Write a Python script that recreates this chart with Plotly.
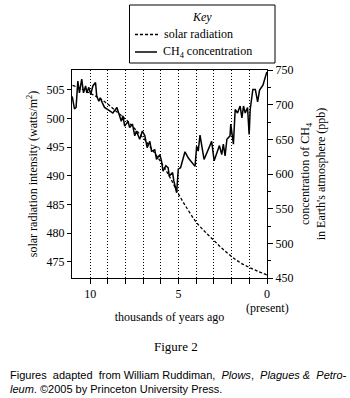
import plotly.graph_objects as go

# ---------------- data ----------------
kyr_ch4 = [11.02, 10.89, 10.80, 10.70, 10.61, 10.48, 10.38, 10.26, 10.19, 10.08,
           9.97, 9.85, 9.70, 9.63, 9.51, 9.43, 9.32, 9.19, 9.00, 8.72,
           8.49, 8.34, 8.24, 8.15, 8.05, 7.86, 7.77, 7.61, 7.48, 7.39,
           7.20, 7.05, 6.91, 6.78, 6.63, 6.53, 6.35, 6.25, 6.06, 5.97,
           5.88, 5.72, 5.59, 5.53, 5.34, 5.27, 5.11, 5.02, 4.89, 4.64,
           4.45, 4.07, 3.98, 3.89, 3.79, 3.56, 3.22, 3.13, 2.99, 2.84,
           2.69, 2.56, 2.47, 2.37, 2.27, 2.09, 2.05, 1.90, 1.80, 1.67,
           1.52, 1.42, 1.33, 1.23, 1.10, 1.01, 0.95, 0.80, 0.66, 0.53,
           0.42, 0.23, 0.01]
ch4_ppb = [712, 694, 696, 734, 717, 737, 717, 727, 717, 725,
           715, 727, 732, 712, 705, 710, 703, 696, 693, 688,
           696, 684, 676, 684, 669, 676, 667, 672, 655, 662,
           650, 662, 655, 638, 647, 633, 635, 621, 628, 619,
           604, 612, 609, 597, 602, 590, 573, 607, 609, 632,
           623, 611, 640, 633, 656, 621, 640, 647, 619, 631,
           641, 628, 643, 626, 650, 655, 672, 643, 693, 688,
           698, 681, 698, 688, 696, 657, 693, 722, 722, 704,
           721, 728, 747]

kyr_solar = [11, 10.5, 10, 9.5, 9, 8.5, 8, 7.5, 7, 6.5, 6, 5.5, 5,
             4.5, 4, 3.5, 3, 2.5, 2, 1.5, 1, 0.5, 0]
solar_wm2 = [505.8, 505.2, 504.4, 503.6, 502.5, 501.2, 499.9, 498.3, 496.6,
             494.6, 492.4, 489.8, 486.8, 484.2, 481.9, 480.2, 478.7, 477.2,
             475.9, 474.8, 474.0, 473.3, 472.7]

x_ticks = [0, 1, 2, 3, 4, 5, 6, 7, 8, 9, 10]
x_ticktext = ["0", "", "", "", "", "5", "", "", "", "", "10"]
left_ticks = [475, 480, 485, 490, 495, 500, 505]
right_ticks = [450, 500, 550, 600, 650, 700, 750]

# ---------------- layout constants ----------------
W, H = 350, 398
L, R, T, B = 72, 83, 70, 120
SERIF = "Liberation Serif"
SANS = "Liberation Sans"


def px(x):
    return (x - L) / (W - L - R)


def py(y):
    return (H - B - y) / (H - T - B)


fig = go.Figure()
fig.add_trace(go.Scatter(x=kyr_solar, y=solar_wm2, mode="lines", line_shape="spline",
                         name="solar radiation", showlegend=False,
                         line=dict(color="black", width=1.3, dash="3px,2px")))
fig.add_trace(go.Scatter(x=kyr_ch4, y=ch4_ppb, mode="lines", yaxis="y2",
                         name="CH<sub>4</sub> concentration", showlegend=False,
                         line=dict(color="black", width=1.5)))

axis_font = dict(family=SERIF, size=12, color="black")

fig.update_layout(
    width=W, height=H, margin=dict(l=L, r=R, t=T, b=B, autoexpand=False),
    paper_bgcolor="white", plot_bgcolor="white",
    font=axis_font,
    xaxis=dict(range=[11.03, 0], tickvals=x_ticks, ticktext=x_ticktext,
               ticks="outside", ticklen=5, tickwidth=1, tickcolor="black",
               showline=True, linecolor="black", linewidth=1, mirror=True,
               showgrid=True, gridcolor="black", gridwidth=1, griddash="1px,2px",
               zeroline=False, tickfont=axis_font,
               title=dict(text="thousands of years ago", font=axis_font, standoff=12)),
    yaxis=dict(range=[472.15, 508.49], tickvals=left_ticks,
               ticks="outside", ticklen=4, tickwidth=1, tickcolor="black",
               showline=True, linecolor="black", linewidth=1,
               showgrid=False, zeroline=False, tickfont=axis_font,
               title=dict(text="solar radiation intensity (watts/m<sup>2</sup>)",
                          font=axis_font, standoff=6)),
    yaxis2=dict(range=[450, 750], tickvals=right_ticks, overlaying="y", side="right",
                ticks="outside", ticklen=5, tickwidth=1, tickcolor="black",
                minor=dict(ticks="outside", ticklen=3, dtick=25, tick0=450,
                           tickcolor="black", showgrid=False),
                showline=True, linecolor="black", linewidth=1,
                showgrid=False, zeroline=False, tickfont=axis_font,
                title=dict(text="concentration of CH<sub>4</sub><br>in Earth's atmosphere (ppb)",
                           font=axis_font, standoff=8)),
)

# ---------------- key box ----------------
fig.add_shape(type="rect", xref="paper", yref="paper",
              x0=px(129.5), x1=px(275), y0=py(63), y1=py(5),
              line=dict(color="black", width=1), fillcolor="white")
fig.add_shape(type="line", xref="paper", yref="paper",
              x0=px(135), x1=px(158), y0=py(34.5), y1=py(34.5),
              line=dict(color="black", width=1.3, dash="3px,2px"))
fig.add_shape(type="line", xref="paper", yref="paper",
              x0=px(135), x1=px(157), y0=py(52), y1=py(52),
              line=dict(color="black", width=1.5))
S = "&nbsp; "
annots = [
    dict(text="<i>Key</i>", x=px(202), y=py(17), xanchor="center", yanchor="middle"),
    dict(text="solar radiation", x=px(162), y=py(34), xanchor="left", yanchor="middle"),
    dict(text="CH<sub>4</sub> concentration", x=px(161), y=py(52), xanchor="left", yanchor="middle"),
    dict(text="(present)", x=px(267), y=py(308), xanchor="center", yanchor="middle"),
    dict(text="Figure 2", x=px(176), y=py(346), xanchor="center", yanchor="middle",
         font=dict(family=SERIF, size=13, color="black")),
    dict(text="Figures" + S + "adapted" + S + "from William Ruddiman," + S
              + "<i>Plows</i>," + S + "<i>Plagues &amp;" + S + "Petro-</i><br>"
              "<i>leum</i>. ©2005 by Princeton University Press.",
         x=px(8), y=py(381.5), xanchor="left", yanchor="middle", align="left",
         font=dict(family=SANS, size=11, color="black")),
]
for a in annots:
    base = dict(xref="paper", yref="paper", showarrow=False, font=axis_font)
    base.update(a)
    fig.add_annotation(**base)

fig.write_html("out.html")
